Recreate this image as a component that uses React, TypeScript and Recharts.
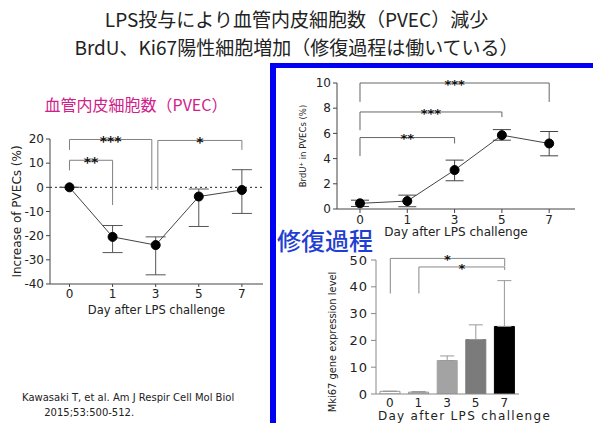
import React from "react";
import { LineChart, Line, BarChart, Bar, Cell, XAxis, YAxis, ErrorBar, ReferenceLine } from "recharts";

// day labels shared by all three panels
const days = ["0", "1", "3", "5", "7"];

// PVEC count change (%), left panel
const pvecChange = [0, -20.5, -23.9, -3.8, -1.1];
const pvecErrLow = [0, 6.5, 12.3, 12.4, 9.7];
const pvecErrHigh = [0, 4.7, 3.4, 3.1, 8.4];

// BrdU+ in PVECs (%), upper right panel
const brduPct = [0.45, 0.63, 3.09, 5.86, 5.2];
const brduErrLow = [0.25, 0.45, 0.85, 0.4, 0.98];
const brduErrHigh = [0.25, 0.47, 0.79, 0.44, 0.95];

// Mki67 gene expression, lower right panel
const mki67Level = [1.0, 0.7, 12.5, 20.3, 25.2];
const mki67ErrHigh = [0, 0.2, 1.7, 5.5, 17.1];
const mki67Fill = ["#ffffff", "#d2d2d2", "#a3a3a3", "#7b7b7b", "#000000"];
const mki67Stroke = ["#9a9a9a", "#9a9a9a", "#a3a3a3", "#7b7b7b", "#000000"];

// significance brackets: from/to on the x axis, y of the bar, drop ends of each arm
const pvecBrackets = [
  { from: 0, to: 1.91, y: 19.8, fromDrop: 15.5, toDrop: -1.1, label: "***" },
  { from: 0, to: 1, y: 11.2, fromDrop: 7, toDrop: -7.3, label: "**" },
  { from: 2.05, to: 4, y: 19.4, fromDrop: -1.1, toDrop: 15.5, label: "*" },
];
const brduBrackets = [
  { from: 0, to: 4, y: 10, fromDrop: 8.5, toDrop: 8.5, label: "***" },
  { from: 0, to: 3, y: 7.7, fromDrop: 6.25, toDrop: 7.3, label: "***" },
  { from: 0, to: 2, y: 5.67, fromDrop: 4.2, toDrop: 5.2, label: "**" },
];
const mkiBrackets = [
  { from: "0", to: "7", y: 50.6, fromDrop: 37.5, toDrop: 47.6, label: "*" },
  { from: "1", to: "7", y: 47.4, fromDrop: 37.5, toDrop: 46.3, label: "*" },
];

const pvecRows = days.map((d, i) => ({ pos: i, value: pvecChange[i], err: [pvecErrLow[i], pvecErrHigh[i]] }));
const brduRows = days.map((d, i) => ({ pos: i, value: brduPct[i], err: [brduErrLow[i], brduErrHigh[i]] }));
const mkiRows = days.map((d, i) => ({ day: d, value: mki67Level[i], err: [0, mki67ErrHigh[i]] }));

type Bracket = { from: number | string; to: number | string; y: number; fromDrop: number; toDrop: number; label: string };

function brackets(list: Bracket[], color: string, starSize: number, key: string) {
  return list.flatMap((b, i) => [
    <ReferenceLine
      key={`${key}h${i}`}
      segment={[{ x: b.from, y: b.y }, { x: b.to, y: b.y }]}
      stroke={color}
      ifOverflow="visible"
      label={(p: any) => {
        const vb = p.viewBox || {};
        const cx = vb.x + vb.width / 2;
        const cy = vb.y + starSize * 0.45;
        return (
          <text x={cx} y={cy} transform={`rotate(0.01 ${cx} ${cy})`} textAnchor="middle" fontSize={starSize} fontWeight={700} fill="#111">
            {b.label}
          </text>
        );
      }}
    />,
    <ReferenceLine key={`${key}l${i}`} segment={[{ x: b.from, y: b.y }, { x: b.from, y: b.fromDrop }]} stroke={color} ifOverflow="visible" />,
    <ReferenceLine key={`${key}r${i}`} segment={[{ x: b.to, y: b.y }, { x: b.to, y: b.toDrop }]} stroke={color} ifOverflow="visible" />,
  ]);
}

const jp = "'Noto Sans CJK JP', sans-serif";

function MkiYLabel(p: any) {
  const vb = p.viewBox || {};
  const cx = vb.x + 6;
  const cy = vb.y + vb.height / 2 + 15;
  return (
    <text
      x={cx}
      y={cy}
      transform={`rotate(-90 ${cx} ${cy})`}
      textAnchor="middle"
      dominantBaseline="central"
      fontSize={11}
      fill="#222"
      fontFamily="'Liberation Sans Narrow', 'DejaVu Sans Condensed', sans-serif"
    >
      Mki67 gene expression level
    </text>
  );
}

export default function App() {
  return (
    <div style={{ position: "absolute", left: 0, top: 0, width: 593, height: 423, background: "#fff", overflow: "hidden", fontFamily: "'DejaVu Sans', sans-serif", color: "#222" }}>
      <div style={{ position: "absolute", left: 0, top: 7, width: 593, textAlign: "center", fontFamily: jp, fontSize: 19, lineHeight: "24px", color: "#222" }}>
        LPS投与により血管内皮細胞数（PVEC）減少
      </div>
      <div style={{ position: "absolute", left: 0, top: 35, width: 593, textAlign: "center", fontFamily: jp, fontSize: 19, lineHeight: "24px", color: "#222" }}>
        BrdU、Ki67陽性細胞増加（修復過程は働いている）
      </div>

      <div style={{ position: "absolute", left: 0, top: 92, width: 272, textAlign: "center", fontFamily: jp, fontSize: 16, lineHeight: "24px", color: "#d0218a" }}>
        血管内皮細胞数（PVEC）
      </div>

      {/* left panel */}
      <div style={{ position: "absolute", left: 0, top: 120 }}>
        <LineChart width={270} height={200} data={pvecRows} margin={{ top: 19, right: 7, bottom: 0, left: 10 }}>
          <XAxis
            type="number"
            dataKey="pos"
            domain={[-0.452, 4.49]}
            allowDataOverflow
            ticks={[0, 1, 2, 3, 4]}
            tickFormatter={(v) => days[v]}
            height={36}
            tickSize={3}
            stroke="#444"
            tick={{ fontSize: 12, fill: "#222" }}
            label={{ value: "Day after LPS challenge", position: "insideBottom", offset: 6, fontSize: 11.5, fill: "#222" }}
          />
          <YAxis
            domain={[-40, 20]}
            allowDataOverflow
            ticks={[-40, -30, -20, -10, 0, 10, 20]}
            interval={0}
            width={40}
            tickSize={4}
            tickMargin={2}
            stroke="#444"
            tick={{ fontSize: 12, fill: "#222" }}
            label={{ value: "Increase of PVECs (%)", angle: -90, position: "insideLeft", offset: 7, fontSize: 12, fill: "#222", style: { textAnchor: "middle" } }}
          />
          <ReferenceLine y={0} stroke="#222" strokeDasharray="2 3" />
          {brackets(pvecBrackets, "#808080", 14, "p")}
          <Line
            dataKey="value"
            stroke="#444"
            strokeWidth={1}
            dot={{ r: 4.5, fill: "#000", stroke: "#000" }}
            isAnimationActive={false}
          >
            <ErrorBar dataKey="err" width={10} stroke="#555" strokeWidth={1} direction="y" />
          </Line>
        </LineChart>
      </div>

      {/* blue frame */}
      <div style={{ position: "absolute", left: 270, top: 63, width: 340, height: 400, borderLeft: "6px solid #0000f5", borderTop: "5px solid #0000f5", boxSizing: "border-box" }} />

      {/* upper right panel */}
      <div style={{ position: "absolute", left: 270, top: 70 }}>
        <LineChart width={323} height={175} data={brduRows} margin={{ top: 13, right: 18, bottom: 0, left: 27 }}>
          <XAxis
            type="number"
            dataKey="pos"
            domain={[-0.486, 4.546]}
            allowDataOverflow
            ticks={[0, 1, 2, 3, 4]}
            tickFormatter={(v) => days[v]}
            height={36}
            tickSize={4}
            stroke="#444"
            tick={{ fontSize: 12, fill: "#222" }}
            label={{ value: "Day after LPS challenge", position: "insideBottom", offset: 9, fontSize: 12, fill: "#222" }}
          />
          <YAxis
            domain={[0, 10]}
            allowDataOverflow
            ticks={[0, 2, 4, 6, 8, 10]}
            interval={0}
            width={40}
            tickSize={4}
            tickMargin={2}
            stroke="#444"
            tick={{ fontSize: 12, fill: "#222" }}
            label={{ value: "BrdU⁺ in PVECs (%)", angle: -90, position: "insideLeft", offset: 6, fontSize: 8.5, fill: "#222", style: { textAnchor: "middle" } }}
          />
          {brackets(brduBrackets, "#666", 13, "b")}
          <Line
            dataKey="value"
            stroke="#444"
            strokeWidth={1}
            dot={{ r: 4.5, fill: "#000", stroke: "#000" }}
            isAnimationActive={false}
          >
            <ErrorBar dataKey="err" width={9} stroke="#444" strokeWidth={1} direction="y" />
          </Line>
        </LineChart>
      </div>

      <div style={{ position: "absolute", left: 277, top: 228, fontFamily: jp, fontSize: 24, lineHeight: "24px", fontWeight: 500, color: "#1f3fd2" }}>
        修復過程
      </div>

      {/* lower right panel */}
      <div style={{ position: "absolute", left: 290, top: 240 }}>
        <BarChart width={303} height={183} data={mkiRows} margin={{ top: 20, right: 74, bottom: 0, left: 36 }}>
          <XAxis
            dataKey="day"
            height={29}
            tickLine={false}
            tickSize={2}
            tickMargin={2}
            stroke="#888"
            tick={{ fontSize: 12, fill: "#222", letterSpacing: 1 }}
            label={{ value: "Day after LPS challenge", position: "insideBottom", offset: 3, dx: 17, fontSize: 12, fill: "#222", letterSpacing: 1.3 }}
          />
          <YAxis
            domain={[0, 50]}
            allowDataOverflow
            ticks={[0, 10, 20, 30, 40, 50]}
            interval={0}
            width={50}
            tickSize={5}
            tickMargin={3}
            stroke="#888"
            tick={{ fontSize: 13, fill: "#222", letterSpacing: 1 }}
            label={MkiYLabel}
          />
          {brackets(mkiBrackets, "#888", 13, "m")}
          <Bar dataKey="value" barSize={20} isAnimationActive={false}>
            {mkiRows.map((r, i) => (
              <Cell key={r.day} fill={mki67Fill[i]} stroke={mki67Stroke[i]} />
            ))}
            <ErrorBar dataKey="err" width={7} stroke="#999" strokeWidth={1} direction="y" />
          </Bar>
        </BarChart>
      </div>

      <div style={{ position: "absolute", left: 22, top: 390, fontSize: 10, lineHeight: "15px", color: "#222", whiteSpace: "pre" }}>
        {"Kawasaki T, et al. Am J Respir Cell Mol Biol\n       2015;53:500-512."}
      </div>
    </div>
  );
}
